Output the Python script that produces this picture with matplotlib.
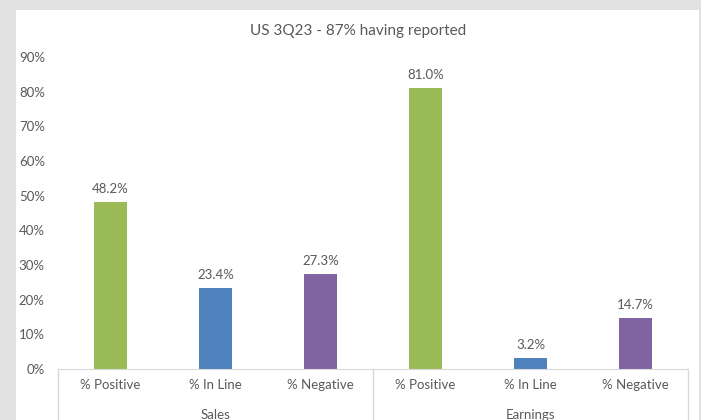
import matplotlib.pyplot as plt
from matplotlib.patches import Rectangle
from matplotlib.ticker import FuncFormatter

plt.rcParams['font.family'] = ['Lato', 'DejaVu Sans']

title = "US 3Q23 - 87% having reported"
groups = ["Sales", "Earnings"]
categories = ["% Positive", "% In Line", "% Negative"]
sales_values = [48.2, 23.4, 27.3]
earnings_values = [81.0, 3.2, 14.7]
bar_colors = ["#9BBB59", "#4F81BD", "#8064A2"]

txt = "#595959"
values = sales_values + earnings_values
labels = categories + categories
colors = bar_colors + bar_colors
xs = list(range(len(values)))

fig = plt.figure(figsize=(7.01, 4.2), dpi=100)
fig.patch.set_facecolor("#e1e1e1")
fig.patches.append(Rectangle((16 / 701, 0), 683 / 701, 410 / 420, transform=fig.transFigure,
                             facecolor="white", edgecolor="none", zorder=-10))

ax = fig.add_axes([58 / 701, 51 / 420, 630 / 701, 312 / 420])
ax.set_zorder(5)
ax.set_facecolor("none")
ax.bar(xs, values, width=0.31, color=colors, zorder=2)
for x, v in zip(xs, values):
    ax.annotate(f"{v:.1f}%", (x, v), xytext=(0, 5), textcoords="offset points",
                ha="center", va="bottom", fontsize=9.5, color=txt)

ax.set_xlim(-0.5, len(values) - 0.5)
ax.set_ylim(0, 90)
ax.set_yticks(range(0, 91, 10))
ax.yaxis.set_major_formatter(FuncFormatter(lambda v, p: f"{v:.0f}%"))
ax.set_xticks(xs)
ax.set_xticklabels(labels)
ax.tick_params(axis="both", length=0, colors=txt, labelsize=9.5)
ax.tick_params(axis="x", pad=7)
ax.tick_params(axis="y", pad=9.5)
for s in ["top", "right", "left"]:
    ax.spines[s].set_visible(False)
ax.spines["bottom"].set_color("#d9d9d9")

# group separators and group labels
for xv in [-0.5, 2.5, 5.5]:
    ax.plot([xv, xv], [0, -0.17], color="#d9d9d9", lw=1,
            transform=ax.get_xaxis_transform(), clip_on=False)
for i, g in enumerate(groups):
    ax.text(1 + 3 * i, -0.148, g, transform=ax.get_xaxis_transform(),
            ha="center", va="center", fontsize=9.5, color=txt)

fig.text(358 / 701, 1 - 31 / 420, title, ha="center", va="center", fontsize=11, color=txt)

fig.savefig("out.png", dpi=100, facecolor=fig.get_facecolor())
